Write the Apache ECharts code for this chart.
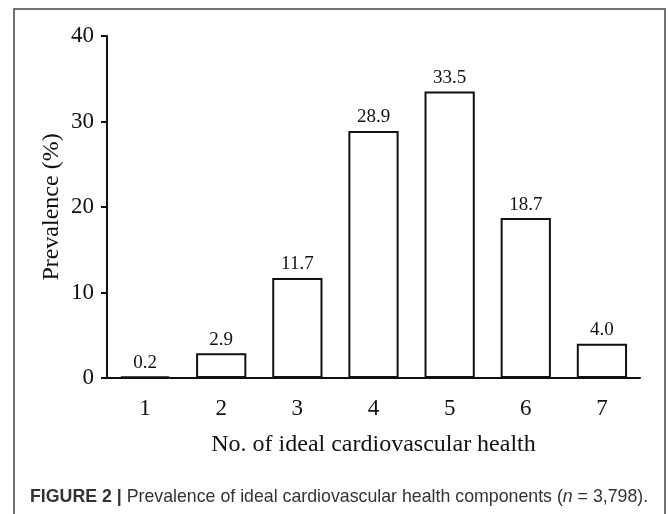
<!DOCTYPE html>
<html>
<head>
<meta charset="utf-8">
<script src="https://cdn.jsdelivr.net/npm/echarts@6/dist/echarts.min.js"></script>
<style>
  html, body { margin: 0; padding: 0; background: #fff; }
  #chart { width: 669px; height: 514px; }
</style>
</head>
<body>
<div id="chart"></div>
<script>
// Prevalence of ideal cardiovascular health components
const categories = ["1", "2", "3", "4", "5", "6", "7"]
const prevalence = [0.2, 2.9, 11.7, 28.9, 33.5, 18.7, 4.0]
const yTicks = [0, 10, 20, 30, 40]

const serif = "Liberation Serif, Times New Roman, serif"
const sans = "Liberation Sans, Arial, sans-serif"
const chart = echarts.init(document.getElementById("chart"))

chart.setOption({
  animation: false,
  backgroundColor: "#fff",
  title: {
    left: 30,
    top: 488,
    padding: 0,
    text: "{b|FIGURE 2 |} Prevalence of ideal cardiovascular health components ({i|n} = 3,798).",
    textStyle: {
      fontFamily: sans,
      fontSize: 17.75,
      fontWeight: "normal",
      color: "#333",
      rich: {
        b: { fontWeight: "bold", fontSize: 17.75, color: "#333", fontFamily: sans },
        i: { fontStyle: "italic", fontSize: 17.75, color: "#333", fontFamily: sans },
      },
    },
  },
  graphic: [
    {
      type: "rect",
      shape: { x: 14, y: 9, width: 651, height: 530 },
      style: { fill: null, stroke: "#444", lineWidth: 1.5 },
    },
  ],
  grid: { left: 107, right: 29, top: 36, bottom: 136 },
  xAxis: {
    type: "category",
    data: categories,
    name: "No. of ideal cardiovascular health",
    nameLocation: "middle",
    nameGap: 55,
    nameMoveOverlap: false,
    nameTextStyle: { fontFamily: serif, fontSize: 24, color: "#111" },
    axisLine: { lineStyle: { color: "#111", width: 2 } },
    axisTick: { alignWithLabel: true, length: 6, lineStyle: { color: "#111", width: 2 } },
    axisLabel: { fontFamily: serif, fontSize: 23, color: "#111", margin: 19 },
  },
  yAxis: {
    type: "value",
    min: yTicks[0],
    max: yTicks[yTicks.length - 1],
    interval: 10,
    name: "Prevalence (%)",
    nameLocation: "middle",
    nameGap: 43,
    nameMoveOverlap: false,
    nameTextStyle: { fontFamily: serif, fontSize: 24, color: "#111" },
    splitLine: { show: false },
    axisLine: { show: true, lineStyle: { color: "#111", width: 2 } },
    axisTick: { show: true, length: 6, lineStyle: { color: "#111", width: 2 } },
    axisLabel: { fontFamily: serif, fontSize: 23, color: "#111", margin: 13 },
  },
  series: [
    {
      type: "bar",
      data: prevalence,
      barWidth: "66%",
      itemStyle: { color: "#fff", borderColor: "#111", borderWidth: 2 },
      label: {
        show: true,
        position: "top",
        distance: 4,
        fontFamily: serif,
        fontSize: 19,
        color: "#111",
        formatter: (p) => p.value.toFixed(1),
      },
    },
  ],
})
</script>
</body>
</html>
